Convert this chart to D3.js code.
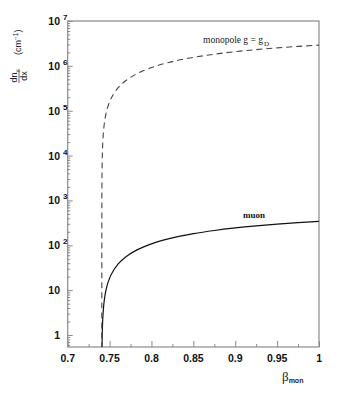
<!DOCTYPE html>
<html><head><meta charset="utf-8">
<script src="https://cdn.jsdelivr.net/npm/d3@7"></script>
<style>
body{margin:0;background:#fff;}
svg{display:block;}
</style></head>
<body>
<svg id="c" width="346" height="395"></svg>
<script>
// ---- data ----
const beta = [0.7408,0.741,0.7415,0.742,0.743,0.745,0.7475,0.75,0.755,0.76,0.77,0.78,0.79,0.8,0.825,0.85,0.875,0.9,0.925,0.95,0.975,1.0];
const muon = [0.12,0.53,1.55,2.56,4.6,8.6,13.6,18.5,28.2,37.8,56.3,74.1,91.2,107.7,146.3,181.6,213.9,243.6,270.8,296.0,319.2,340.7];
const monoBeta = [0.7407,0.7408,0.741,0.7415,0.742,0.743,0.745,0.7475,0.75,0.755,0.76,0.77,0.78,0.79,0.8,0.825,0.85,0.875,0.9,0.925,0.95,0.975,1.0];
const monopole = [0.5,1030,4490,13140,21770,38980,73190,115600,157500,240200,321300,478600,630000,775700,915900,1244000,1544000,1819000,2071000,2303000,2517000,2714000,2897000];
const xTicks = [0.7,0.75,0.8,0.85,0.9,0.95,1];
const xTickLabels = ["0.7","0.75","0.8","0.85","0.9","0.95","1"];
const xMinor = [0.725,0.775,0.825,0.875,0.925,0.975];
const yTicks = [1,10,100,1e3,1e4,1e5,1e6,1e7];
const yTickExp = ["", "", "2","3","4","5","6","7"];
const yTickBase = ["1","10","10","10","10","10","10","10"];

const svg = d3.select("#c");
const L=67.7, R=319, T=21, B=347;
const x = d3.scaleLinear().domain([0.7,1]).range([L,R]);
const y = d3.scaleLog().domain([0.54,1e7]).range([B,T]);

const axisCol="#8a8a8a";
svg.append("defs").append("clipPath").attr("id","clip")
  .append("rect").attr("x",L).attr("y",T).attr("width",R-L).attr("height",B-T);

// frame
svg.append("rect").attr("x",L).attr("y",T).attr("width",R-L).attr("height",B-T)
  .attr("fill","none").attr("stroke",axisCol).attr("stroke-width",1.2);

// x axis ticks (inside, pointing up)
const xa = svg.append("g").attr("transform",`translate(0,${B})`)
  .call(d3.axisTop(x).tickValues(xTicks).tickSize(6).tickFormat(""));
xa.select(".domain").remove();
xa.selectAll("line").attr("stroke",axisCol);
const xm = svg.append("g").attr("transform",`translate(0,${B})`)
  .call(d3.axisTop(x).tickValues(xMinor).tickSize(3).tickFormat(""));
xm.select(".domain").remove();
xm.selectAll("line").attr("stroke",axisCol);
svg.append("g").selectAll("text").data(xTicks).join("text")
  .attr("x",d=>x(d)).attr("y",B+15)
  .attr("text-anchor",(d,i)=>i===xTicks.length-1?"end":"middle")
  .attr("dx",(d,i)=>i===xTicks.length-1?3:0)
  .attr("font-family","'Liberation Sans Narrow','Arial Narrow','Liberation Sans',Arial,sans-serif")
  .attr("font-weight","bold").attr("font-size",10.5).attr("fill","#111")
  .text((d,i)=>xTickLabels[i]);

// y axis ticks (inside, pointing right)
const ya = svg.append("g").attr("transform",`translate(${L},0)`)
  .call(d3.axisLeft(y).tickValues(yTicks).tickSize(-5).tickFormat(""));
ya.select(".domain").remove();
ya.selectAll("line").attr("stroke",axisCol);
const yMinorVals=[];
[0.1,1,10,100,1e3,1e4,1e5,1e6].forEach(dec=>{for(let k=2;k<=9;k++){const v=dec*k; if(v>=0.54&&v<=1e7) yMinorVals.push(v);}});
const ym = svg.append("g").attr("transform",`translate(${L},0)`)
  .call(d3.axisLeft(y).tickValues(yMinorVals).tickSize(-2.5).tickFormat(""));
ym.select(".domain").remove();
ym.selectAll("line").attr("stroke",axisCol);

const yl = svg.append("g").selectAll("text").data(yTicks).join("text")
  .attr("x",(d,i)=>yTickExp[i]?60:60).attr("y",d=>y(d)+4)
  .attr("text-anchor","end")
  .attr("font-family","'Liberation Sans Narrow','Arial Narrow','Liberation Sans',Arial,sans-serif")
  .attr("font-weight","bold").attr("font-size",10.5).attr("fill","#111");
yl.text((d,i)=>yTickBase[i]);
svg.append("g").selectAll("text").data(yTicks.filter((d,i)=>yTickExp[i])).join("text")
  .attr("x",63).attr("y",d=>y(d)-1)
  .attr("font-family","'Liberation Sans Narrow','Arial Narrow','Liberation Sans',Arial,sans-serif")
  .attr("font-weight","bold").attr("font-size",8).attr("fill","#111")
  .text(d=>yTickExp[yTicks.indexOf(d)]);

// curves
const g = svg.append("g").attr("clip-path","url(#clip)");
const line = d3.line().x(d=>x(d[0])).y(d=>y(d[1])).curve(d3.curveMonotoneX);
g.append("path").datum(beta.map((b,i)=>[b,muon[i]]))
  .attr("d",line).attr("fill","none").attr("stroke","#111").attr("stroke-width",1.2);
g.append("path").datum(monoBeta.map((b,i)=>[b,monopole[i]]))
  .attr("d",line).attr("fill","none").attr("stroke","#444").attr("stroke-width",1.1)
  .attr("stroke-dasharray","6,4");

// curve labels
const ml = svg.append("text").attr("x",203).attr("y",43)
  .attr("font-family","'Liberation Serif','Times New Roman',serif").attr("font-size",9.5).attr("fill","#222");
ml.append("tspan").text("monopole g = g");
ml.append("tspan").attr("dy",2.5).attr("dx",1).attr("font-size",7).text("D");
svg.append("text").attr("x",243).attr("y",218)
  .attr("font-family","'Liberation Serif','Times New Roman',serif").attr("font-weight","bold")
  .attr("font-size",9).attr("fill","#111").text("muon");

// x label
const xl = svg.append("text").attr("x",282).attr("y",381)
  .attr("font-family","'Liberation Serif','Times New Roman',serif").attr("font-size",13).attr("fill","#222");
xl.append("tspan").text("β");
xl.append("tspan").attr("dy",2).attr("font-size",7).attr("font-weight","bold")
  .attr("font-family","'Liberation Sans',Arial,sans-serif").text("mon");

// y label (rotated)
const yg = svg.append("g").attr("transform","translate(19,76) rotate(-90)");
const num = yg.append("text").attr("x",0).attr("y",-2).attr("text-anchor","middle")
  .attr("font-family","'Liberation Sans',Arial,sans-serif").attr("font-size",9).attr("fill","#222");
num.append("tspan").text("dn");
num.append("tspan").attr("dy",2).attr("font-size",6).text("γ");
yg.append("line").attr("x1",-7).attr("x2",7).attr("y1",0).attr("y2",0)
  .attr("stroke","#444").attr("stroke-width",0.8);
yg.append("text").attr("x",0).attr("y",8).attr("text-anchor","middle")
  .attr("font-family","'Liberation Sans',Arial,sans-serif").attr("font-size",9).attr("fill","#222").text("dx");
const cm = yg.append("text").attr("x",21).attr("y",2)
  .attr("font-family","'Liberation Sans',Arial,sans-serif").attr("font-size",9).attr("fill","#222");
cm.append("tspan").text("(cm");
cm.append("tspan").attr("dy",-3).attr("font-size",6.5).text("−1");
cm.append("tspan").attr("dy",3).text(")");
</script>
</body></html>
